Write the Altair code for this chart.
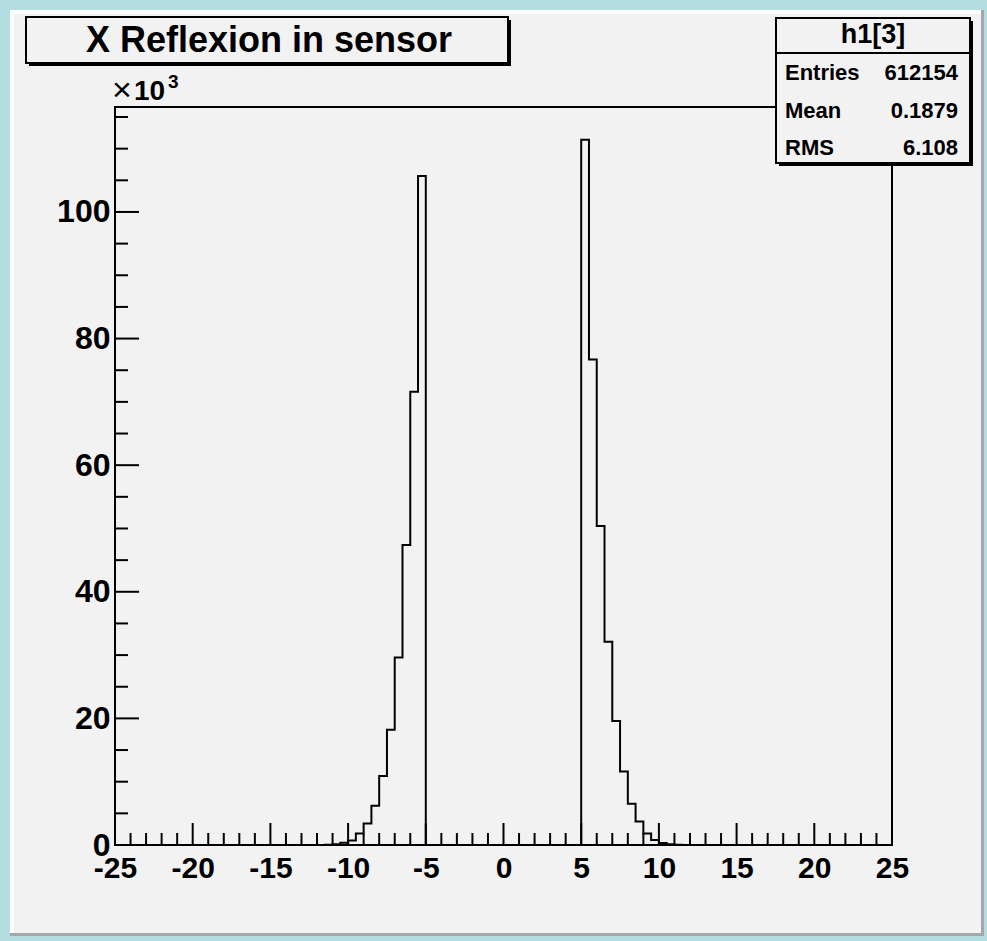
import altair as alt
import pandas as pd

# ---------------- data ----------------
x_min, x_max, bin_width = -25.0, 25.0, 0.5

left_bin_lo = [-11.5, -11.0, -10.5, -10.0, -9.5, -9.0, -8.5, -8.0, -7.5, -7.0, -6.5, -6.0, -5.5]
left_counts = [50, 120, 360, 700, 1800, 3400, 6200, 10900, 18200, 29600, 47400, 71600, 105700]

right_bin_lo = [5.0, 5.5, 6.0, 6.5, 7.0, 7.5, 8.0, 8.5, 9.0, 9.5, 10.0, 10.5, 11.0]
right_counts = [111400, 76700, 50400, 32100, 19600, 11600, 6500, 3700, 1800, 800, 300, 120, 50]

x_major = [-25, -20, -15, -10, -5, 0, 5, 10, 15, 20, 25]
x_minor = [v for v in range(-25, 26) if v % 5 != 0]
y_major = [0, 20000, 40000, 60000, 80000, 100000]
y_minor = [v for v in range(0, 116000, 5000) if v % 20000 != 0]
y_top = 116580

title_text = "X Reflexion in sensor"
stats_name = "h1[3]"
stats_labels = ["Entries", "Mean", "RMS"]
stats_values = ["612154", "0.1879", "6.108"]

# ---------------- build histogram table ----------------
n_bins = int(round((x_max - x_min) / bin_width))
counts = [0] * n_bins
for lo, c in zip(left_bin_lo + right_bin_lo, left_counts + right_counts):
    counts[int(round((lo - x_min) / bin_width))] = c
edges = [x_min + i * bin_width for i in range(n_bins + 1)]
hist = pd.DataFrame({"x": edges, "y": counts + [counts[-1]]})

# ---------------- layout (page pixels) ----------------
PL, PT = 115, 107          # plot origin on the page
W, H = 777, 738            # plot area
FONT = "Liberation Sans"

xs = alt.Scale(domain=[x_min, x_max], nice=False, zero=False)
ys = alt.Scale(domain=[0, y_top], nice=False, zero=False)

x_axis = alt.Axis(
    values=x_major, labelExpr="datum.value < 0 ? '-' + abs(datum.value) : '' + datum.value",
    labelFont=FONT, labelFontSize=30, labelFontWeight="bold", labelColor="black",
    labelPadding=8, ticks=False, domain=False, grid=False, title=None,
    labelFlush=False, labelOverlap=False, zindex=2)
y_axis = alt.Axis(
    values=y_major, labelExpr="'' + round(datum.value / 1000)",
    labelFont=FONT, labelFontSize=32, labelFontWeight="bold", labelColor="black",
    labelPadding=5, ticks=False, domain=False, grid=False, title=None,
    labelFlush=False, labelOverlap=False, zindex=2)

one = pd.DataFrame({"d": [0]})


def px(v):
    return alt.value(v - PL)


def py(v):
    return alt.value(v - PT)


def rect(x1, y1, x2, y2, **kw):
    return alt.Chart(one).mark_rect(**kw).encode(x=px(x1), x2=px(x2), y=py(y1), y2=py(y2))


def text(t, x, y, size, align="left", weight="bold", baseline="middle"):
    return alt.Chart(pd.DataFrame({"t": [t]})).mark_text(
        font=FONT, fontSize=size, fontWeight=weight, align=align, baseline=baseline, color="black"
    ).encode(text="t:N", x=px(x), y=py(y))


# panel with bevel
panel = rect(10, 10, 984, 936, fill="#f2f2f2")
bevel_t = rect(10, 10, 984, 14, fill="#ffffff")
bevel_l = rect(10, 10, 14, 936, fill="#ffffff")
bevel_b = rect(10, 933, 984, 936, fill="#a6a6a6")
bevel_r = rect(981, 10, 984, 936, fill="#a6a6a6")

# histogram
line = alt.Chart(hist).mark_line(interpolate="step-after", color="black", strokeWidth=2).encode(
    x=alt.X("x:Q", scale=xs, axis=x_axis),
    y=alt.Y("y:Q", scale=ys, axis=y_axis),
)

# inside ticks
xt_major = alt.Chart(pd.DataFrame({"x": x_major})).mark_rule(color="black", strokeWidth=2).encode(
    x=alt.X("x:Q", scale=xs, axis=x_axis), y=alt.value(H), y2=alt.value(H - 22))
xt_minor = alt.Chart(pd.DataFrame({"x": x_minor})).mark_rule(color="black", strokeWidth=2).encode(
    x=alt.X("x:Q", scale=xs, axis=x_axis), y=alt.value(H), y2=alt.value(H - 12))
yt_major = alt.Chart(pd.DataFrame({"y": y_major})).mark_rule(color="black", strokeWidth=2).encode(
    y=alt.Y("y:Q", scale=ys, axis=y_axis), x=alt.value(0), x2=alt.value(24))
yt_minor = alt.Chart(pd.DataFrame({"y": y_minor})).mark_rule(color="black", strokeWidth=2).encode(
    y=alt.Y("y:Q", scale=ys, axis=y_axis), x=alt.value(0), x2=alt.value(13))

frame = alt.Chart(one).mark_rect(fillOpacity=0, stroke="black", strokeWidth=2).encode(
    x=alt.value(0), x2=alt.value(W), y=alt.value(0), y2=alt.value(H))

# exponent label
exp_times = text("\u00d7", 112, 91, 34, weight="normal")
exp_ten = text("10", 134, 100, 28, baseline="alphabetic")
exp_three = text("3", 168, 88, 19, baseline="alphabetic")

# title box
t_shadow = rect(29, 20, 511, 66, fill="black")
t_box = rect(26, 17, 508, 63, fill="#f2f2f2", stroke="black", strokeWidth=2)
t_text = text(title_text, 269, 41, 36, align="center")

# stats box
s_shadow = rect(779, 21, 973, 166, fill="black")
s_box = rect(776, 18, 970, 163, fill="#f2f2f2", stroke="black", strokeWidth=2)
s_sep = alt.Chart(one).mark_rule(color="black", strokeWidth=2).encode(
    x=px(776), x2=px(970), y=py(53))
s_name = text(stats_name, 873, 35, 27, align="center")
stat_layers = []
for i, (lab, val) in enumerate(zip(stats_labels, stats_values)):
    yy = 73 + i * 37.5
    stat_layers.append(text(lab, 785, yy, 22))
    stat_layers.append(text(val, 958, yy, 22, align="right"))

chart = alt.layer(
    panel, bevel_t, bevel_l, bevel_b, bevel_r,
    line, xt_major, xt_minor, yt_major, yt_minor, frame,
    exp_times, exp_ten, exp_three,
    t_shadow, t_box, t_text,
    s_shadow, s_box, s_sep, s_name, *stat_layers,
).properties(
    width=W, height=H,
    padding={"left": PL, "top": PT, "right": 987 - PL - W, "bottom": 941 - PT - H},
    autosize=alt.AutoSizeParams(type="none"),
    background="#b4dde1",
).configure_view(stroke=None)

chart.save("out.html", embed_options={"renderer": "svg", "actions": False})
